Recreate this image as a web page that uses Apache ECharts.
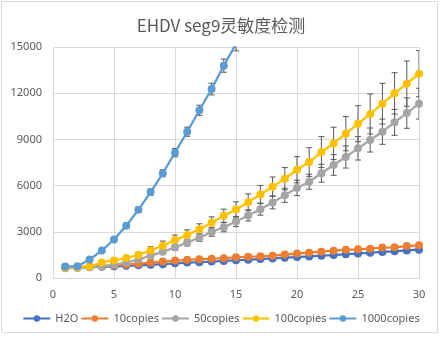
<!DOCTYPE html>
<html>
<head>
<meta charset="utf-8">
<script src="https://cdn.jsdelivr.net/npm/echarts@6/dist/echarts.min.js"></script>
<style>
html,body{margin:0;padding:0;background:#fff;}
#c{width:442px;height:337px;}
</style>
</head>
<body>
<div id="c"></div>
<script>
var xs = [1,2,3,4,5,6,7,8,9,10,11,12,13,14,15,16,17,18,19,20,21,22,23,24,25,26,27,28,29,30];
var h2o = [680,690,710,730,760,790,820,860,900,950,1000,1030,1070,1110,1150,1190,1230,1270,1320,1360,1400,1450,1490,1550,1590,1640,1690,1730,1790,1840];
var h2oErr = [20,20,20,20,25,25,25,30,30,30,30,30,35,35,35,35,40,40,40,40,45,45,45,45,50,50,50,50,55,55];
var c10 = [700,710,740,770,830,870,930,1000,1070,1130,1180,1220,1250,1290,1340,1380,1410,1450,1520,1590,1640,1710,1770,1830,1860,1900,1980,1990,2070,2120];
var c10Err = [20,20,20,25,25,25,30,30,30,35,35,35,35,40,40,40,40,45,45,45,50,50,50,50,55,55,55,60,60,60];
var c50 = [640,650,700,760,860,1000,1200,1450,1700,1990,2300,2620,2990,3300,3670,4060,4470,4910,5370,5850,6250,6800,7340,7860,8420,8960,9500,10110,10710,11320];
var c50Err = [30,30,40,50,70,90,110,140,170,200,220,250,280,300,330,360,390,420,460,500,490,580,670,720,760,780,820,840,990,1000];
var c100 = [680,700,750,1010,1140,1300,1500,1790,2100,2460,2800,3170,3580,4040,4450,4920,5420,5930,6450,7030,7530,8180,8740,9370,10020,10650,11320,11990,12620,13270];
var c100Err = [40,50,60,80,100,130,180,240,300,330,330,350,390,430,500,540,590,630,720,850,930,1000,1050,1110,1170,1300,1320,1340,1470,1500];
var c1000 = [750,760,1200,1780,2500,3390,4430,5580,6800,8140,9500,10890,12270,13790,15200];
var c1000Err = [60,60,80,100,120,150,170,200,230,270,300,330,380,430,450];
var names = ['H2O','10copies','50copies','100copies','1000copies'];
var colors = ['#4472C4','#ED7D31','#A5A5A5','#FFC000','#5B9BD5'];
var xTicks = [0,5,10,15,20,25,30];
var yTicks = [0,3000,6000,9000,12000,15000];

var vals = [h2o,c10,c50,c100,c1000];
var errs = [h2oErr,c10Err,c50Err,c100Err,c1000Err];

function pts(v){ return v.map(function(y,i){ return [xs[i], y]; }); }
function errData(v,e){ return v.map(function(y,i){ return [xs[i], y-e[i], y+e[i]]; }); }

function renderErr(params, api){
  var x = api.value(0), lo = api.value(1), hi = api.value(2);
  var a = api.coord([x, lo]), b = api.coord([x, hi]);
  var w = 3;
  var st = {stroke:'#595959', lineWidth:1};
  return {type:'group', children:[
    {type:'line', shape:{x1:a[0],y1:a[1],x2:b[0],y2:b[1]}, style:st},
    {type:'line', shape:{x1:a[0]-w,y1:a[1],x2:a[0]+w,y2:a[1]}, style:st},
    {type:'line', shape:{x1:b[0]-w,y1:b[1],x2:b[0]+w,y2:b[1]}, style:st}
  ]};
}

var series = [];
for (var k=0;k<5;k++){
  series.push({
    type:'custom', name:names[k]+'_err', renderItem:renderErr, clip:true,
    data: errData(vals[k], errs[k]), z:1, silent:true, encode:{x:0,y:[1,2]}
  });
}
for (var k=0;k<5;k++){
  series.push({
    type:'line', name:names[k], data:pts(vals[k]), z:2+k,
    symbol:'circle', symbolSize:8, clip:true,
    lineStyle:{color:colors[k], width:2.25},
    itemStyle:{color:colors[k]},
    animation:false
  });
}

var chart = echarts.init(document.getElementById('c'));
chart.setOption({
  animation:false,
  backgroundColor:'#ffffff',
  graphic:[{type:'rect', shape:{x:1.5,y:1.5,width:436,height:331}, style:{fill:'none', stroke:'#D9D9D9', lineWidth:1}, silent:true}],
  title:{text:'EHDV seg9灵敏度检测', left:'center', top:12,
    textStyle:{fontFamily:'Noto Sans CJK SC', fontSize:17, fontWeight:'normal', color:'#595959'}},
  grid:{left:53, right:23, top:47, bottom:59, containLabel:false},
  legend:{data:names, bottom:8, left:'center', itemWidth:27, itemHeight:8, itemGap:2,
    textStyle:{fontFamily:'Noto Sans', fontSize:11, color:'#595959'}},
  xAxis:{type:'value', min:0, max:30, interval:5,
    axisLine:{show:true, lineStyle:{color:'#D9D9D9'}}, axisTick:{show:false},
    axisLabel:{color:'#595959', fontFamily:'Noto Sans', fontSize:11, margin:11,
      formatter:function(v){ return xTicks.indexOf(v)>=0 ? String(v) : ''; }},
    splitLine:{show:true, lineStyle:{color:'#D9D9D9'}}},
  yAxis:{type:'value', min:0, max:15000, interval:3000,
    axisLine:{show:false}, axisTick:{show:false},
    axisLabel:{color:'#595959', fontFamily:'Noto Sans', fontSize:11, margin:11,
      formatter:function(v){ return yTicks.indexOf(v)>=0 ? String(v) : ''; }},
    splitLine:{show:true, lineStyle:{color:'#D9D9D9'}}},
  series:series
});
</script>
</body>
</html>
